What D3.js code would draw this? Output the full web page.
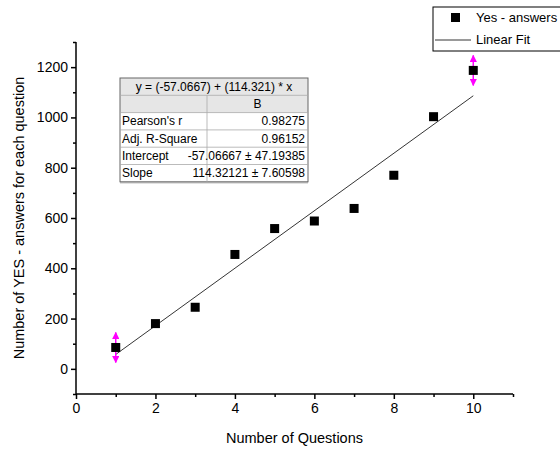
<!DOCTYPE html>
<html>
<head>
<meta charset="utf-8">
<script src="https://cdn.jsdelivr.net/npm/d3@7"></script>
<style>
  body { margin: 0; background: #fff; }
  svg { font-family: 'Liberation Sans', Arial, sans-serif; }
  .axis text { font-size: 14px; fill: #000; }
  .axis path, .axis line { stroke: #000; stroke-width: 1.5; }
</style>
</head>
<body>
<div id="app"></div>
<script>
// data
const questions = [1, 2, 3, 4, 5, 6, 7, 8, 9, 10];
const yesAnswers = [85, 180, 245, 455, 558, 588, 638, 770, 1003, 1187];
const flagged = [1, 10]; // points marked with magenta arrows
const fitIntercept = -57.0667;
const fitSlope = 114.321;
const xTicks = [0, 2, 4, 6, 8, 10];
const yTicks = [0, 200, 400, 600, 800, 1000, 1200];
const tableTitle = 'y = (-57.0667) + (114.321) * x';
const tableHeader = 'B';
const tableLabels = ["Pearson's r", 'Adj. R-Square', 'Intercept', 'Slope'];
const tableValues = ['0.98275', '0.96152', '-57.06667 \u00b1 47.19385', '114.32121 \u00b1 7.60598'];
const legendLabels = ['Yes - answers', 'Linear Fit'];

const containerWidth = 560;
const containerHeight = 452;
const margin = { top: 42, right: 47, bottom: 58, left: 76 };
const width = containerWidth - margin.left - margin.right;
const height = containerHeight - margin.top - margin.bottom;

const svg = d3.select('#app')
  .append('svg')
  .attr('width', containerWidth)
  .attr('height', containerHeight);

const bounds = svg.append('g')
  .attr('transform', `translate(${margin.left},${margin.top})`);

// scales
const xScale = d3.scaleLinear().domain([0, 11]).range([0, width]);
const yScale = d3.scaleLinear().domain([-100, 1300]).range([height, 0]);

// minor ticks
const xMinor = d3.range(0, 12, 1).filter(v => v % 2 !== 0);
const yMinor = d3.range(-100, 1301, 100).filter(v => v % 200 !== 0);

bounds.append('g')
  .attr('class', 'axis')
  .attr('transform', `translate(0,${height})`)
  .call(d3.axisBottom(xScale).tickValues(xMinor).tickSize(3).tickFormat(''))
  .call(g => g.select('.domain').remove());

bounds.append('g')
  .attr('class', 'axis')
  .attr('transform', `translate(0,${height})`)
  .call(d3.axisBottom(xScale).tickValues(xTicks).tickSize(5).tickSizeOuter(0).tickPadding(4).tickFormat(d3.format('d')))
  .call(g => g.select('.domain').attr('d', `M0,0H${width}`));

bounds.append('g')
  .attr('class', 'axis')
  .call(d3.axisLeft(yScale).tickValues(yMinor).tickSize(3).tickFormat(''))
  .call(g => g.select('.domain').remove());

bounds.append('g')
  .attr('class', 'axis')
  .call(d3.axisLeft(yScale).tickValues(yTicks).tickSize(5).tickSizeOuter(0).tickPadding(3).tickFormat(d3.format('d')))
  .call(g => g.select('.domain').attr('d', `M0,0V${height}`));

// axis labels
svg.append('text')
  .attr('x', margin.left + xScale(5.5))
  .attr('y', 443)
  .attr('text-anchor', 'middle')
  .style('font-size', '14.5px')
  .text('Number of Questions');

svg.append('text')
  .attr('transform', `translate(24,${margin.top + yScale(600)}) rotate(-90)`)
  .attr('text-anchor', 'middle')
  .style('font-size', '14.5px')
  .text('Number of YES - answers for each question');

// fit line
bounds.append('line')
  .attr('x1', xScale(1))
  .attr('y1', yScale(fitIntercept + fitSlope * 1))
  .attr('x2', xScale(10))
  .attr('y2', yScale(fitIntercept + fitSlope * 10))
  .attr('stroke', '#000')
  .attr('stroke-width', 0.8);

// magenta arrows for flagged points
const defs = svg.append('defs');
defs.append('marker')
  .attr('id', 'arrow')
  .attr('viewBox', '0 0 10 10')
  .attr('refX', 9).attr('refY', 5)
  .attr('markerWidth', 5).attr('markerHeight', 5)
  .attr('orient', 'auto-start-reverse')
  .append('path')
  .attr('d', 'M0,0L10,5L0,10Z')
  .attr('fill', '#ff00ff');

const points = questions.map((q, i) => ({ x: q, y: yesAnswers[i] }));

bounds.append('g')
  .selectAll('line')
  .data(points.filter(d => flagged.includes(d.x)))
  .join('line')
  .attr('x1', d => xScale(d.x))
  .attr('x2', d => xScale(d.x))
  .attr('y1', d => yScale(d.y) - 15)
  .attr('y2', d => yScale(d.y) + 15)
  .attr('stroke', '#ff00ff')
  .attr('stroke-width', 1.5)
  .attr('marker-start', 'url(#arrow)')
  .attr('marker-end', 'url(#arrow)');

// scatter points
const sq = 9;
bounds.append('g')
  .selectAll('rect')
  .data(points)
  .join('rect')
  .attr('x', d => xScale(d.x) - sq / 2)
  .attr('y', d => yScale(d.y) - sq / 2)
  .attr('width', sq)
  .attr('height', sq)
  .attr('fill', '#000');

// stats table
const table = svg.append('g').attr('transform', 'translate(120,78)');
const tableW = 188;
const colX = 87;
const rowH = 17.3;
const nRows = 2 + tableLabels.length;
const tableFont = '12px';

table.append('rect')
  .attr('width', tableW).attr('height', rowH * 2)
  .attr('fill', '#e6e6e6');
table.append('rect')
  .attr('width', tableW).attr('height', rowH * nRows)
  .attr('fill', 'none').attr('stroke', '#666').attr('stroke-width', 1);
table.append('line')
  .attr('x1', 0).attr('x2', tableW)
  .attr('y1', rowH * nRows + 1).attr('y2', rowH * nRows + 1)
  .attr('stroke', '#999').attr('stroke-width', 1);
table.selectAll('.row-line')
  .data(d3.range(1, nRows))
  .join('line')
  .attr('x1', 0).attr('x2', tableW)
  .attr('y1', d => d * rowH).attr('y2', d => d * rowH)
  .attr('stroke', '#aaa').attr('stroke-width', 0.8);
table.append('line')
  .attr('x1', colX).attr('x2', colX)
  .attr('y1', rowH).attr('y2', rowH * nRows)
  .attr('stroke', '#aaa').attr('stroke-width', 0.8);

table.append('text')
  .attr('x', tableW / 2).attr('y', rowH * 0.5 + 4)
  .attr('text-anchor', 'middle')
  .style('font-size', tableFont)
  .text(tableTitle);
table.append('text')
  .attr('x', colX + (tableW - colX) / 2).attr('y', rowH * 1.5 + 4)
  .attr('text-anchor', 'middle')
  .style('font-size', tableFont)
  .text(tableHeader);
table.selectAll('.lbl')
  .data(tableLabels)
  .join('text')
  .attr('x', 2)
  .attr('y', (d, i) => rowH * (i + 2.5) + 4)
  .style('font-size', tableFont)
  .text(d => d);
table.selectAll('.val')
  .data(tableValues)
  .join('text')
  .attr('x', tableW - 3)
  .attr('y', (d, i) => rowH * (i + 2.5) + 4)
  .attr('text-anchor', 'end')
  .style('font-size', tableFont)
  .text(d => d);

// legend
const legend = svg.append('g').attr('transform', 'translate(433,7)');
legend.append('rect')
  .attr('width', 140).attr('height', 44)
  .attr('fill', '#fff').attr('stroke', '#000').attr('stroke-width', 1);
legend.append('rect')
  .attr('x', 18).attr('y', 6).attr('width', 9).attr('height', 9)
  .attr('fill', '#000');
legend.append('line')
  .attr('x1', 2).attr('x2', 38).attr('y1', 33).attr('y2', 33)
  .attr('stroke', '#000').attr('stroke-width', 0.8);
legend.selectAll('.leg-text')
  .data(legendLabels)
  .join('text')
  .attr('x', 43)
  .attr('y', (d, i) => 15 + i * 22)
  .style('font-size', '13px')
  .text(d => d);
</script>
</body>
</html>
